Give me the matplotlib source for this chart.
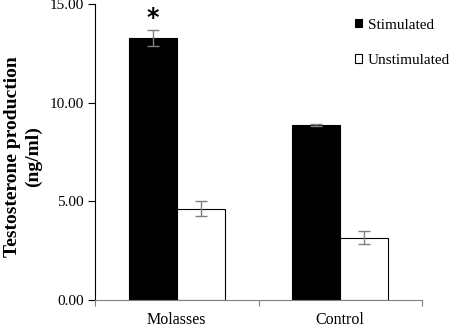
import matplotlib
matplotlib.use("Agg")
import matplotlib.pyplot as plt
import numpy as np

plt.rcParams["font.family"] = ["Liberation Serif", "DejaVu Serif"]

categories = ["Molasses", "Control"]
stimulated = [13.28, 8.87]
stimulated_err = [0.40, 0.05]
unstimulated = [4.63, 3.16]
unstimulated_err = [0.38, 0.33]

fig = plt.figure(figsize=(4.51, 3.28), dpi=100)
ax = fig.add_axes([95 / 451, 28 / 328, 327 / 451, 296 / 328])

x = np.arange(len(categories)) + 0.5
w = 0.295
err_kw = dict(ecolor="#808080", elinewidth=1.0, capsize=4, capthick=1.0)
ax.bar(x - w / 2, stimulated, w, yerr=stimulated_err, color="black",
       edgecolor="black", linewidth=0.8, label="Stimulated", error_kw=err_kw)
ax.bar(x + w / 2, unstimulated, w, yerr=unstimulated_err, color="white",
       edgecolor="black", linewidth=0.8, label="Unstimulated", error_kw=err_kw)

ax.text(x[0] - w / 2, 14.3, "*", ha="center", va="center", fontsize=17,
        fontweight="bold", family="DejaVu Sans")

ax.set_xlim(0, 2)
ax.set_ylim(0, 15)
ax.set_yticks([0, 5, 10, 15])
ax.set_yticklabels(["0.00", "5.00", "10.00", "15.00"])
ax.set_xticks([0, 1, 2])
ax.set_xticklabels([])
ax.set_xticks(x, minor=True)
ax.set_xticklabels(categories, minor=True)
ax.tick_params(axis="x", which="minor", length=0, pad=9, labelsize=11.5)
ax.tick_params(axis="x", which="major", direction="out", length=4, color="#808080")
ax.tick_params(axis="y", direction="out", length=5, labelsize=11, pad=3)

ax.spines["top"].set_visible(False)
ax.spines["right"].set_visible(False)
ax.spines["bottom"].set_color("#808080")
ax.spines["left"].set_color("black")

fig.text(23 / 451, 1 - 157 / 328, "Testosterone production\n(ng/ml)",
         rotation=90, ha="center", va="center", fontsize=14,
         fontweight="bold", linespacing=1.25, multialignment="center")

ax.legend(loc="upper left", bbox_to_anchor=(0.795, 0.95), frameon=False,
          fontsize=11, handlelength=0.45, handleheight=0.45,
          handletextpad=0.4, labelspacing=1.45, borderpad=0,
          borderaxespad=0)

fig.savefig("out.png", dpi=100)
